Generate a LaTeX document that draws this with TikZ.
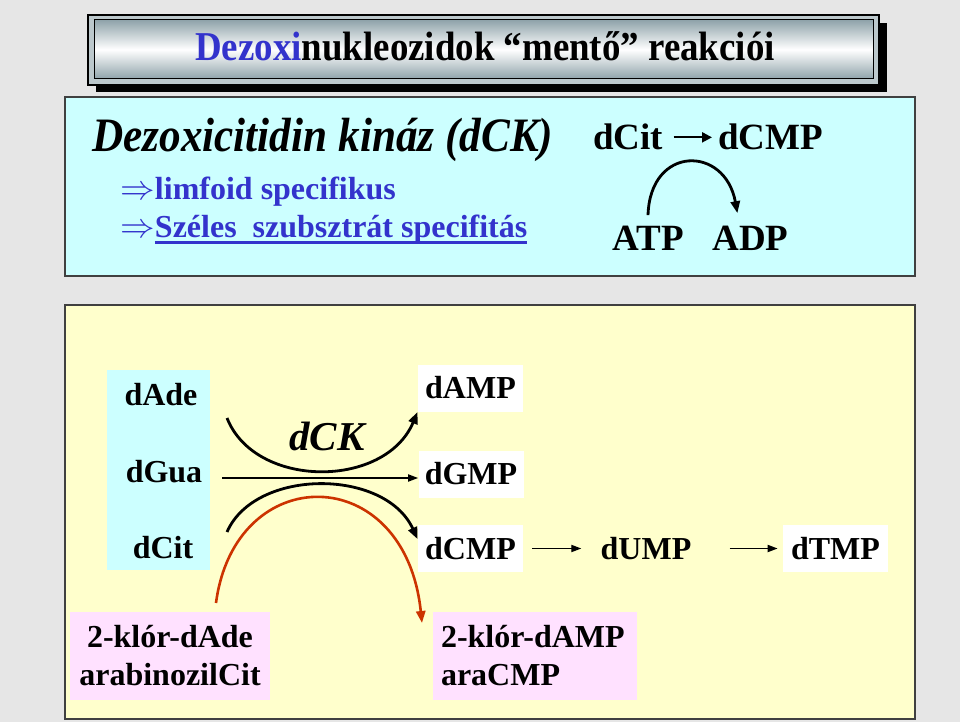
\documentclass[tikz,border=0pt]{standalone}
\usepackage{fontspec}
\setmainfont{Liberation Serif}[BoldFont={Liberation Serif Bold}, ItalicFont={Liberation Serif Italic}, BoldItalicFont={Liberation Serif Bold Italic}]
\newfontfamily\narrowserif{Liberation Serif}[FakeStretch=0.9, BoldFont={Liberation Serif Bold}, ItalicFont={Liberation Serif Italic}, BoldItalicFont={Liberation Serif Bold Italic}]
\usepackage{tikz}
\usetikzlibrary{arrows.meta, positioning, calc}
\usepackage{xcolor}
\definecolor{slidegray}{HTML}{E6E6E6}
\definecolor{paleblue}{HTML}{CCFFFF}
\definecolor{paleyellow}{HTML}{FFFFCC}
\definecolor{palepink}{HTML}{FFE1FF}
\definecolor{inkblue}{HTML}{3333CC}
\definecolor{rustred}{HTML}{CC3300}
\definecolor{framegray}{HTML}{404040}
\definecolor{steelgray}{HTML}{8FA3AA}

\newsavebox\ulbox
\newcommand\thickul[1]{\sbox\ulbox{#1}\usebox\ulbox\llap{\rule[-2.8pt]{\wd\ulbox}{1.2pt}}}

\begin{document}
\begin{tikzpicture}[x=0.5pt, y=-0.5pt,
    lbl/.style={font=\bfseries\fontsize{16}{19}\selectfont, inner sep=0pt},
    toplbl/.style={font=\bfseries\fontsize{18.5}{22}\selectfont, inner sep=0pt},
    molbox/.style={lbl, fill=white, minimum width=52.5pt, minimum height=23.5pt},
    pinkbox/.style={lbl, fill=palepink, minimum width=100pt, minimum height=44pt, inner xsep=4pt},
    panel/.style={draw=framegray, line width=0.8pt},
    rxn/.style={-{Triangle[length=5pt,width=3.6pt]}, line width=0.7pt},
    curvearrow/.style={-{Triangle[length=6pt,width=4.6pt]}, line width=1.4pt}]
    \useasboundingbox (0,0) rectangle (960,722);
    \fill[slidegray] (0,0) rectangle (960,722);

    \fill[black] (96,23) rectangle (887,92);
    \draw[fill=steelgray!60, draw=black, line width=0.6pt] (88,15) rectangle (879,85);
    \shade[top color=steelgray, bottom color=steelgray, middle color=white, draw=black, line width=0.5pt]
        (94,20) rectangle (873,79);
    \node[anchor=base, inner sep=0pt] (title) at (485,61)
        {\narrowserif\bfseries\fontsize{20.5}{24}\selectfont\textcolor{inkblue}{Dezoxi}nukleozidok “mentő” reakciói};

    \draw[panel, fill=paleblue] (65,97) rectangle (915,276);
    \node[anchor=base west, inner sep=0pt] (dck) at (92,152)
        {\narrowserif\bfseries\itshape\fontsize{24}{28}\selectfont Dezoxicitidin kináz (dCK)};
    \node[anchor=base west, inner sep=0pt, text=inkblue] (limfoid) at (120,200)
        {\bfseries\fontsize{16}{19}\selectfont$\Rightarrow$limfoid specifikus};
    \node[anchor=base west, inner sep=0pt, text=inkblue] (szeles) at (120,238)
        {\bfseries\fontsize{16}{19}\selectfont$\Rightarrow$\thickul{Széles\ \ szubsztrát specifitás}};

    \node[toplbl, anchor=base west] (dcit) at (593,150) {dCit};
    \node[toplbl, anchor=base west] (dcmp) at (718,150) {dCMP};
    \node[toplbl, anchor=base west] (atp) at (612,250) {ATP};
    \node[toplbl, anchor=base west] (adp) at (712,250) {ADP};
    \draw[-{Triangle[length=5pt,width=5pt]}, line width=1.1pt, shorten <=5pt, shorten >=3pt] (dcit.east) -- (dcmp.west);
    \draw[curvearrow] ($(atp.north)+(0,-10)$) .. controls (650,145) and (725,145) .. ($(adp.north)+(-13,-12)$);

    \draw[panel, fill=paleyellow] (65,305) rectangle (915,719);
    \fill[paleblue] (107,370) rectangle (210,570);
    \node[lbl, anchor=base] (dade) at (161,405) {dAde};
    \node[lbl, anchor=base] (dgua) at (164,482) {dGua};
    \node[lbl, anchor=base] (dcitb) at (163,558) {dCit};

    \node[molbox] (damp) at (470.5,388) {dAMP};
    \node[molbox] (dgmp) at (471,474) {dGMP};
    \node[molbox] (dcmpb) at (470.5,548.5) {dCMP};
    \node[lbl] (dump) at (646,548.5) {dUMP};
    \node[molbox] (dtmp) at (835.5,548.5) {dTMP};

    \node[font=\bfseries\itshape\fontsize{20.5}{24}\selectfont, anchor=base, inner sep=0pt] (dckb) at (327,450) {dCK};

    \node[pinkbox, align=center] (kladE) at (170,656) {2-klór-dAde\\arabinozilCit};
    \node[pinkbox, align=left, text width=94pt] (klamp) at (535,656) {2-klór-dAMP\\araCMP};

    \coordinate (kin1) at (227,418);
    \coordinate (kin2) at (227,532);
    \coordinate (gua0) at (222,478);
    \coordinate (ara0) at (216,603);
    \coordinate (ara1) at (422,623);

    \draw[curvearrow] (kin1) .. controls (255,489) and (385,489) .. (damp.south west);
    \draw[rxn] (gua0) -- (gua0 -| dgmp.west);
    \draw[curvearrow] (kin2) .. controls (255,468) and (385,468) .. (dcmpb.170);
    \draw[curvearrow, rustred, line width=1.3pt] (ara0) .. controls (235,460) and (405,460) .. (ara1);

    \draw[rxn, shorten <=4.5pt, shorten >=9.5pt] (dcmpb.east) -- (dcmpb.east -| dump.west);
    \draw[rxn, shorten <=19pt, shorten >=2.5pt] (dump.east) -- (dump.east -| dtmp.west);
\end{tikzpicture}
\end{document}
